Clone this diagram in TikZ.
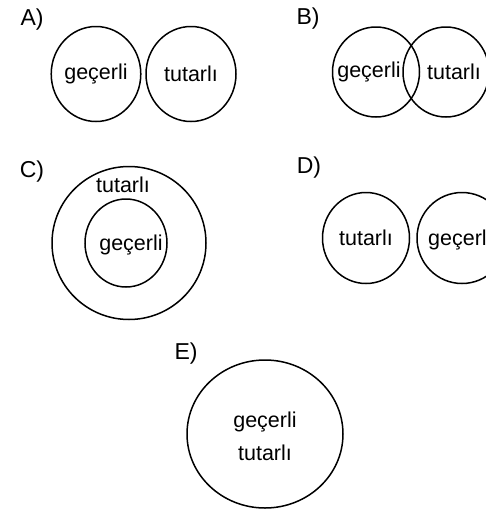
\documentclass[tikz,border=0pt]{standalone}
\usepackage{fontspec}
\setmainfont{Liberation Sans}
\usetikzlibrary{shapes.geometric}

\begin{document}
\begin{tikzpicture}[
  x=1pt,y=-1pt,
  font=\fontsize{21.5}{25}\selectfont,
  set/.style={draw,ellipse,line width=1.5pt,inner sep=0pt},
  word/.style={inner sep=0pt},
  tag/.style={inner sep=0pt,font=\fontsize{23}{26}\selectfont}]
\clip (0,0) rectangle (486,509);
% A
\node[tag] (la) at (32,20) {A)};
\node[set,minimum width=87,minimum height=95] (a1) at (96,74) {geçerli};
\node[set,minimum width=90,minimum height=95] (a2) at (191,74) {tutarlı};
% B
\node[tag] (lb) at (308,19) {B)};
\node[set,minimum width=87,minimum height=90] (b1) at (376,72) {};
\node[set,minimum width=86,minimum height=90] (b2) at (446,72) {};
\node[word] (b1t) at (369,72) {geçerli};
\node[word] (b2t) at (454,72) {tutarlı};
% C
\node[tag] (lc) at (32,172) {C)};
\node[set,minimum width=154,minimum height=153] (c2) at (129,243) {};
\node[set,minimum width=82,minimum height=88] (c1) at (126,243) {};
\node[word] (c2t) at (123,185) {tutarlı};
\node[word] (c1t) at (131,245) {geçerli};
% D
\node[tag] (ld) at (309,168) {D)};
\node[set,minimum width=87,minimum height=91] (d1) at (366,238) {tutarlı};
\node[set,minimum width=90,minimum height=91] (d2) at (462,238) {};
\node[word,anchor=west] (d2t) at (428,240) {geçerli};
% E
\node[tag] (le) at (186,354) {E)};
\node[set,minimum width=156,minimum height=148] (e) at (265,434) {};
\node[word] (et1) at (265,422) {geçerli};
\node[word] (et2) at (265,453) {tutarlı};
\end{tikzpicture}
\end{document}
